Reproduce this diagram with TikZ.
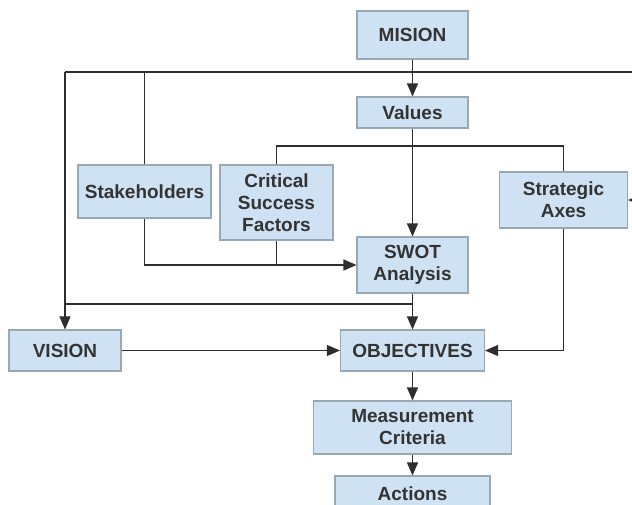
\documentclass[tikz,border=0pt]{standalone}
\usepackage{fontspec}
\setmainfont{Liberation Sans}
\usetikzlibrary{arrows.meta}
\definecolor{boxfill}{HTML}{CFE2F3}
\definecolor{boxline}{HTML}{9AA8B4}
\definecolor{ink}{HTML}{333333}
\definecolor{wire}{HTML}{2E2E2E}
\tikzset{
  box/.style={draw=boxline, line width=1.1pt, fill=boxfill, text=ink,
    font=\bfseries\fontsize{19}{22}\selectfont, align=center,
    inner sep=0pt, anchor=center},
  wireline/.style={draw=wire, line width=1.1pt},
  arr/.style={wireline, -{Triangle[length=13pt,width=11pt]}}
}
\begin{document}
\begin{tikzpicture}[x=1pt, y=-1pt]
\useasboundingbox (0,0) rectangle (632,504);
\fill[white] (0,0) rectangle (632,504);
\clip (0,0) rectangle (632,504);

% boxes
\node[box, minimum width=111pt, minimum height=48pt] (mision) at (412.5,35) {MISION};
\node[box, minimum width=111pt, minimum height=31pt] (values) at (412.5,112.5) {Values};
\node[box, minimum width=133pt, minimum height=53pt] (stake) at (144.5,191.5) {Stakeholders};
\node[box, minimum width=113pt, minimum height=75pt] (csf) at (276.5,202.5) {Critical\\Success\\Factors};
\node[box, minimum width=128pt, minimum height=56pt] (strat) at (563.5,200) {Strategic\\Axes};
\node[box, minimum width=111pt, minimum height=56pt] (swot) at (412.5,265) {SWOT\\Analysis};
\node[box, minimum width=112pt, minimum height=41pt] (vision) at (65,350.5) {VISION};
\node[box, minimum width=144pt, minimum height=41pt] (obj) at (412.5,350.5) {OBJECTIVES};
\node[box, minimum width=198pt, minimum height=53pt] (meas) at (412.5,427.5) {Measurement\\Criteria};
\node[box, minimum width=155pt, minimum height=48pt, text depth=0pt] (actions) at (412.5,500) {\raisebox{12pt}{Actions}};

% junction points of the distribution lines
\coordinate (tl) at (65,72);
\coordinate (tr) at (660,72);
\coordinate (mid) at (0,146);
\coordinate (low) at (0,304);

% mission feeds values, vision, stakeholders and the strategic axes
\draw[arr] (mision) -- (values);
\draw[arr] (tl) -- (tr) -- (strat.east -| tr) -- (strat.east);
\draw[arr] (tl) -- (vision);
\draw[wireline] (stake.north) -- (stake.north |- tl);

% values feed SWOT, CSF and strategic axes
\draw[arr] (values) -- (swot);
\draw[wireline] (csf.north) -- (csf.north |- mid) -- (strat.north |- mid) -- (strat.north);

% stakeholders and CSF into SWOT
\draw[arr] (stake.south) -- (stake.south |- swot.west) -- (swot.west);
\draw[wireline] (csf.south) -- (csf.south |- swot.west);

% SWOT into objectives, joining the vision line
\draw[arr] (swot) -- (obj);
\draw[wireline] (swot.south |- low) -- (vision.north |- low);

% objectives inputs and outputs
\draw[arr] (vision) -- (obj);
\draw[arr] (strat.south) -- (strat.south |- obj.east) -- (obj.east);
\draw[arr] (obj) -- (meas);
\draw[arr] (meas) -- (actions);
\end{tikzpicture}
\end{document}
